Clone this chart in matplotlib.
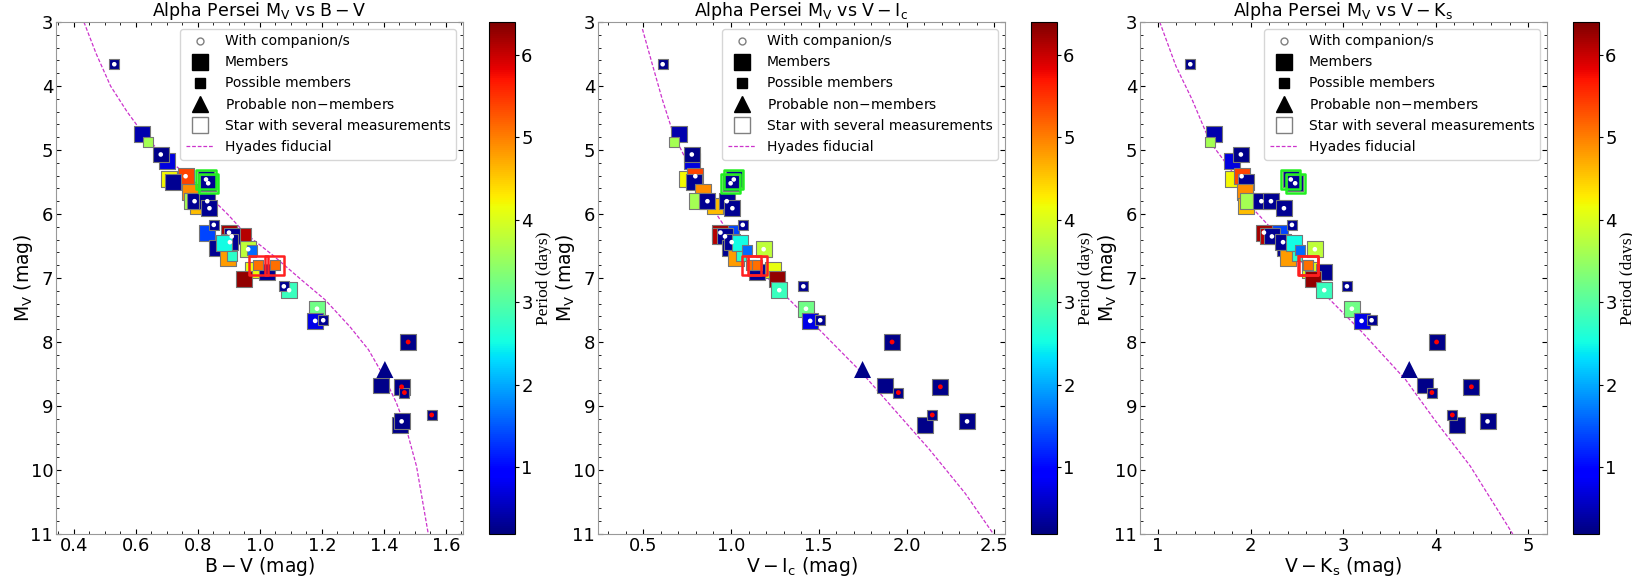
import numpy as np
import matplotlib
matplotlib.use("Agg")
import matplotlib.pyplot as plt
from matplotlib.lines import Line2D
from matplotlib.ticker import AutoMinorLocator, MultipleLocator
from matplotlib import colors

# one entry per plotted star, in drawing order
mv = [3.66, 4.75, 4.87, 5.17, 5.07, 5.46, 5.41, 5.50, 5.65, 5.87,
      5.79, 5.80, 5.80, 5.91, 5.46, 5.52, 6.29, 6.17, 6.29, 6.34,
      6.35, 6.53, 6.44, 6.69, 6.45, 6.66, 6.55, 6.57, 6.88, 6.90,
      6.80, 6.80, 7.02, 7.19, 7.13, 7.48, 7.67, 7.66, 8.00, 8.43,
      8.68, 8.70, 8.79, 9.30, 9.14, 9.24]
bv = [0.530, 0.620, 0.640, 0.699, 0.680, 0.707, 0.760, 0.718, 0.775, 0.800,
      0.780, 0.789, 0.830, 0.837, 0.826, 0.833, 0.828, 0.851, 0.900, 0.945,
      0.909, 0.860, 0.903, 0.896, 0.884, 0.911, 0.962, 0.975, 0.978, 1.022,
      0.995, 1.048, 0.948, 1.094, 1.077, 1.184, 1.178, 1.204, 1.478, 1.403,
      1.390, 1.457, 1.466, 1.452, 1.554, 1.457]
vi = [0.611, 0.702, 0.678, 0.779, 0.777, 0.750, 0.797, 0.787, 0.840, 0.907,
      0.808, 0.866, 0.976, 1.008, 1.016, 0.998, 1.000, 1.067, 0.940, 0.935,
      0.966, 0.996, 1.004, 1.026, 1.050, 1.059, 1.186, 1.090, 1.237, 1.150,
      1.115, 1.150, 1.263, 1.275, 1.412, 1.427, 1.451, 1.508, 1.917, 1.749,
      1.877, 2.192, 1.953, 2.103, 2.146, 2.344]
vk = [1.349, 1.609, 1.562, 1.802, 1.895, 1.810, 1.903, 1.955, 1.936, 1.953,
      1.970, 2.116, 2.220, 2.360, 2.434, 2.481, 2.313, 2.446, 2.144, 2.190,
      2.230, 2.370, 2.350, 2.400, 2.468, 2.503, 2.694, 2.530, 2.638, 2.790,
      2.620, 2.625, 2.670, 2.795, 3.040, 3.093, 3.198, 3.306, 4.008, 3.713,
      3.888, 4.384, 3.957, 4.229, 4.178, 4.558]
period = [0.25, 0.45, 3.6, 0.7, 0.25, 4.2, 5.4, 0.3, 4.9, 4.6,
          3.6, 0.3, 0.3, 0.3, 0.3, 0.3, 1.4, 0.3, 6.2, 6.1,
          0.3, 0.3, 0.3, 4.8, 2.5, 2.7, 3.8, 1.6, 4.1, 0.3,
          5.1, 5.1, 6.3, 2.8, 0.3, 3.2, 0.75, 0.3, 0.25, 0.25,
          0.25, 0.25, 0.25, 0.25, 0.25, 0.25]
# m = member, p = possible member, n = probable non-member
kind = ["p", "m", "p", "m", "m", "m", "m", "m", "m", "m",
        "m", "m", "m", "m", "m", "m", "m", "p", "m", "m",
        "m", "m", "m", "m", "m", "p", "m", "p", "m", "m",
        "p", "p", "m", "m", "p", "m", "m", "p", "m", "n",
        "m", "m", "p", "m", "p", "m"]
# w = white companion dot, r = red dot
comp = ["w", "", "", "", "w", "", "w", "", "", "",
        "", "w", "w", "w", "w", "w", "", "w", "w", "",
        "w", "", "w", "", "", "", "w", "", "", "",
        "", "", "", "w", "w", "w", "w", "w", "r", "",
        "", "r", "r", "", "r", "w"]
# box colour for stars with several measurements
multi = [""] * 14 + ["g", "g"] + [""] * 14 + ["r", "r"] + [""] * 14

# Hyades fiducial sequences
fid_mv_bv = [3.0, 3.5, 4.0, 4.4, 4.75, 5.07, 5.5, 6.0, 6.3, 6.65,
             7.03, 7.34, 7.76, 8.12, 8.54, 8.95, 9.37, 9.94, 11.0]
fid_bv = [0.432, 0.472, 0.518, 0.571, 0.624, 0.685, 0.790, 0.895, 0.952, 1.043,
          1.134, 1.21, 1.29, 1.35, 1.40, 1.44, 1.473, 1.505, 1.543]
fid_mv_vi = [3.11, 3.65, 4.2, 4.75, 5.2, 5.78, 6.2, 6.72, 7.14, 7.66,
             8.48, 9.11, 9.68, 10.36, 11.0]
fid_vi = [0.496, 0.551, 0.608, 0.672, 0.753, 0.864, 0.965, 1.108, 1.26, 1.45,
          1.745, 1.947, 2.13, 2.332, 2.494]
fid_mv_vk = [3.0, 3.69, 4.21, 4.875, 5.31, 5.94, 6.72, 7.14, 7.81, 8.59,
             9.21, 9.94, 11.0]
fid_vk = [1.019, 1.194, 1.368, 1.562, 1.788, 2.04, 2.54, 2.72, 3.18, 3.674,
          3.984, 4.372, 4.83]

W, H = 1633, 576
GRAY = "#777777"
FID = "#cc33cc"
cmap = plt.get_cmap("jet")
norm = colors.Normalize(vmin=0.19, vmax=6.4)


def px_axes(x0, x1, y0, y1):
    return [x0 / W, 1 - y1 / H, (x1 - x0) / W, (y1 - y0) / H]


fig = plt.figure(figsize=(W / 100, H / 100), dpi=100)

panels = [
    (bv, fid_bv, fid_mv_bv, (0.342, 1.655), 0.2, r"\mathrm{B-V}"),
    (vi, fid_vi, fid_mv_vi, (0.243, 2.56), 0.5, r"\mathrm{V-I_c}"),
    (vk, fid_vk, fid_mv_vk, (0.806, 5.2), 1.0, r"\mathrm{V-K_s}"),
]

y = np.array(mv); p = np.array(period)
kd = np.array(kind); cp = np.array(comp); mb = np.array(multi)
sq = kd != "n"
sizes = np.where(kd == "m", 132, 52)

for i, (xs, fx, fy, xlim, step, lab) in enumerate(panels):
    off = 542 * i
    ax = fig.add_axes(px_axes(56 + off, 463 + off, 22, 534))
    cax = fig.add_axes(px_axes(489 + off, 515 + off, 22, 534))
    x = np.array(xs)

    ax.plot(fx, fy, color=FID, lw=0.9, ls=(0, (3, 1.5)), zorder=2)
    ax.scatter(x[sq], y[sq], c=p[sq], s=sizes[sq], marker="s", cmap=cmap, norm=norm,
               edgecolors=GRAY, linewidths=0.8, zorder=3)
    tri = kd == "n"
    ax.scatter(x[tri], y[tri], c=p[tri], s=150, marker="^", cmap=cmap, norm=norm,
               edgecolors="none", zorder=3)
    for code, col in [("g", "#22ee22"), ("r", "#ff2020")]:
        m = mb == code
        ax.scatter(x[m], y[m], s=190, marker="s", facecolors="none",
                   edgecolors=col, linewidths=1.8, zorder=4)
    m = cp == "w"
    ax.scatter(x[m], y[m], s=11, marker="o", color="white", edgecolors="none", zorder=5)
    m = cp == "r"
    ax.scatter(x[m], y[m], s=12, marker="o", color="red", edgecolors="none", zorder=5)

    ax.set_xlim(*xlim); ax.set_ylim(11, 3)
    ax.xaxis.set_major_locator(MultipleLocator(step))
    ax.yaxis.set_major_locator(MultipleLocator(1))
    ax.xaxis.set_minor_locator(AutoMinorLocator())
    ax.yaxis.set_minor_locator(AutoMinorLocator())
    ax.tick_params(which="both", direction="in", top=True, right=True,
                   labelsize=13, pad=2)
    for s in ax.spines.values():
        s.set_color("#999999")
    ax.set_title(r"Alpha Persei M$_\mathrm{V}$ vs $" + lab + "$", fontsize=12.5, pad=3)
    ax.set_xlabel("$" + lab + r"$ (mag)", fontsize=13.5, labelpad=0)
    ax.set_ylabel(r"M$_\mathrm{V}$ (mag)", fontsize=13.5)
    ax.yaxis.set_label_coords(-0.052, 0.5)

    handles = [
        Line2D([], [], marker="o", ls="none", mfc="white", mec="gray", ms=5),
        Line2D([], [], marker="s", ls="none", color="black", ms=11.5),
        Line2D([], [], marker="s", ls="none", color="black", ms=7.5),
        Line2D([], [], marker="^", ls="none", color="black", ms=12),
        Line2D([], [], marker="s", ls="none", mfc="white", mec="gray", ms=12),
        Line2D([], [], color=FID, lw=0.9, ls=(0, (3, 1.5))),
    ]
    labels = ["With companion/s", "Members", "Possible members",
              r"Probable non$-$members", "Star with several measurements",
              "Hyades fiducial"]
    ax.legend(handles, labels, loc="upper right", fontsize=10)

    sm = plt.cm.ScalarMappable(cmap=cmap, norm=norm)
    cb = fig.colorbar(sm, cax=cax)
    cb.set_ticks([1, 2, 3, 4, 5, 6])
    cb.ax.tick_params(labelsize=13, length=3, pad=1.5)
    cb.set_label("Period (days)", family="Liberation Serif", fontsize=12.5, labelpad=2)

fig.savefig("out.png", dpi=100)
